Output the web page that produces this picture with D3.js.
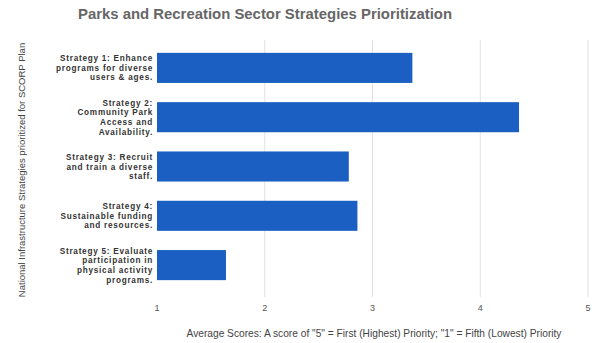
<!DOCTYPE html>
<html>
<head>
<meta charset="utf-8">
<script src="https://cdn.jsdelivr.net/npm/d3@7"></script>
<style>
  html, body { margin: 0; padding: 0; background: #fff; }
  svg { display: block; font-family: "Liberation Sans", Arial, sans-serif; }
</style>
</head>
<body>
<svg id="chart" width="598" height="343"></svg>
<script>
// Strategy labels (line-broken as shown on the axis) and average scores
const strategies = [
  ["Strategy 1: Enhance", "programs for diverse", "users & ages."],
  ["Strategy 2:", "Community Park", "Access and", "Availability."],
  ["Strategy 3: Recruit", "and train a diverse", "staff."],
  ["Strategy 4:", "Sustainable funding", "and resources."],
  ["Strategy 5: Evaluate", "participation in", "physical activity", "programs."]
];
const scores = [3.37, 4.36, 2.78, 2.86, 1.64];
const xTicks = [1, 2, 3, 4, 5];

const titleText = "Parks and Recreation Sector Strategies Prioritization";
const xTitle = "Average Scores: A score of \"5\" = First (Highest) Priority; \"1\" = Fifth (Lowest) Priority";
const yTitle = "National Infrastructure Strategies prioritized for SCORP Plan";

const svg = d3.select("#chart");
const ids = d3.range(strategies.length);

const x = d3.scaleLinear().domain([1, 5]).range([157, 588]);
const y = d3.scaleBand().domain(ids).range([43, 290]).paddingInner(0.39).paddingOuter(0.2);

// Vertical gridlines with short ticks below the plot
const grid = svg.append("g");
grid.selectAll("line").data(xTicks.slice(1)).join("line")
  .attr("x1", d => x(d)).attr("x2", d => x(d))
  .attr("y1", 40).attr("y2", 297)
  .attr("stroke", "#e2e2e2").attr("stroke-width", 1);

// Tick labels
svg.append("g").selectAll("text").data(xTicks).join("text")
  .attr("x", d => x(d)).attr("y", 311)
  .attr("text-anchor", "middle")
  .attr("font-size", 9).attr("fill", "#555")
  .text(d => d);

// Bars
svg.append("g").selectAll("rect").data(ids).join("rect")
  .attr("x", x(1))
  .attr("y", i => y(i))
  .attr("width", i => x(scores[i]) - x(1))
  .attr("height", y.bandwidth())
  .attr("fill", "#1a5fc1");

// Category labels, one text per line
const lh = 9.6;
const labelG = svg.append("g")
  .attr("text-anchor", "end")
  .attr("font-size", 8.2).attr("font-weight", "bold")
  .attr("letter-spacing", 0.75).attr("fill", "#333");
ids.forEach(i => {
  const lines = strategies[i];
  const cy = y(i) + y.bandwidth() / 2;
  const top = cy - (lines.length - 1) * lh / 2;
  labelG.selectAll(null).data(lines).join("text")
    .attr("x", 153)
    .attr("y", (d, k) => top + k * lh + 3)
    .text(d => d);
});

// Chart title
svg.append("text")
  .attr("x", 265).attr("y", 19)
  .attr("text-anchor", "middle")
  .attr("font-size", 14.9).attr("font-weight", "bold").attr("fill", "#666")
  .text(titleText);

// X axis title
svg.append("text")
  .attr("x", 374).attr("y", 337)
  .attr("text-anchor", "middle")
  .attr("font-size", 10.2).attr("fill", "#444")
  .text(xTitle);

// Y axis title
svg.append("text")
  .attr("transform", "translate(25,170) rotate(-90)")
  .attr("text-anchor", "middle")
  .attr("font-size", 9.5).attr("fill", "#444")
  .text(yTitle);
</script>
</body>
</html>
